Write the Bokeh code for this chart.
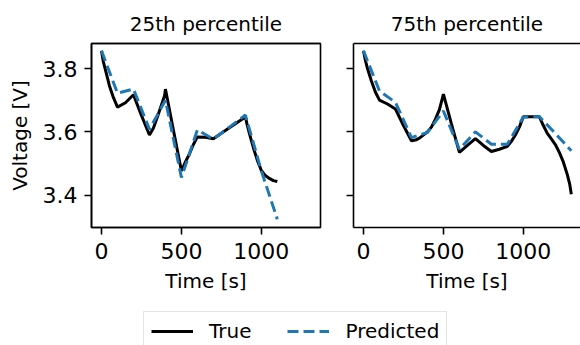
from bokeh.plotting import figure
from bokeh.models import (Range1d, FixedTicker, LinearAxis, Legend, LegendItem,
                          CustomJSTickFormatter)
from bokeh.layouts import row, column
from bokeh.embed import file_html
from bokeh.resources import INLINE

FONT = "DejaVu Sans"
TRUE_COLOR = "#000000"
PRED_COLOR = "#1f77b4"

titles = ["25th percentile", "75th percentile"]
x_label = "Time [s]"
y_label = "Voltage [V]"
x_ticks = [0, 500, 1000]
y_ticks = [3.4, 3.6, 3.8]
legend_labels = ["True", "Predicted"]

# 25th percentile
t_true_25 = [0, 10, 25, 50, 75, 100, 150, 200, 250, 300, 325, 350, 375, 395, 400,
             450, 500, 525, 550, 575, 600, 650, 700, 800, 900, 910, 925, 950, 975,
             1000, 1025, 1050, 1075, 1100]
v_true_25 = [3.856, 3.825, 3.795, 3.745, 3.708, 3.678, 3.692, 3.717, 3.652, 3.590,
             3.612, 3.648, 3.685, 3.715, 3.735, 3.605, 3.477, 3.505, 3.530, 3.560,
             3.584, 3.583, 3.578, 3.613, 3.647, 3.625, 3.595, 3.550, 3.510, 3.478,
             3.462, 3.453, 3.446, 3.443]
t_pred_25 = [0, 100, 200, 300, 400, 500, 600, 700, 800, 900, 1000, 1100]
v_pred_25 = [3.856, 3.722, 3.735, 3.608, 3.700, 3.456, 3.606, 3.577, 3.615, 3.653,
             3.477, 3.324]

# 75th percentile
t_true_75 = [0, 10, 25, 50, 75, 100, 150, 200, 250, 300, 325, 350, 400, 425, 450,
             475, 500, 550, 600, 650, 700, 750, 800, 850, 900, 925, 950, 975, 1000,
             1100, 1125, 1150, 1175, 1200, 1225, 1250, 1275, 1290, 1300]
v_true_75 = [3.856, 3.830, 3.800, 3.760, 3.725, 3.700, 3.688, 3.672, 3.620, 3.572,
             3.574, 3.580, 3.600, 3.615, 3.640, 3.670, 3.719, 3.625, 3.535, 3.557,
             3.579, 3.557, 3.538, 3.545, 3.554, 3.570, 3.590, 3.615, 3.648, 3.648,
             3.620, 3.595, 3.578, 3.560, 3.535, 3.505, 3.465, 3.435, 3.403]
t_pred_75 = [0, 100, 200, 300, 400, 500, 600, 700, 800, 900, 1000, 1100, 1200, 1300]
v_pred_75 = [3.856, 3.729, 3.693, 3.582, 3.598, 3.666, 3.545, 3.600, 3.561, 3.561,
             3.647, 3.648, 3.595, 3.540]

panels = [
    (titles[0], t_true_25, v_true_25, t_pred_25, v_pred_25),
    (titles[1], t_true_75, v_true_75, t_pred_75, v_pred_75),
]

X0, X1 = -62.5, 1370.0
Y0, Y1 = 3.298, 3.879
FW1, FW2, FH = 229, 227, 184
x_scale = FW1 / (X1 - X0)


def make_panel(i, title, tt, vt, tp, vp):
    first = i == 0
    fw = FW1 if first else FW2
    x_end = X1 if first else X0 + fw / x_scale
    p = figure(frame_width=fw, frame_height=FH,
               x_range=Range1d(X0, x_end), y_range=Range1d(Y0, Y1),
               output_backend="svg", toolbar_location=None,
               min_border_left=91 if first else 16,
               min_border_right=17 if first else 0,
               min_border_top=43, min_border_bottom=75,
               background_fill_color="white", border_fill_color="white")
    p.title.text = title
    p.title.align = "center"
    p.title.text_font = FONT
    p.title.text_font_size = "20px"
    p.title.text_font_style = "normal"
    p.title.text_color = "#000000"
    p.title.standoff = 16
    p.grid.visible = False
    if first:
        p.outline_line_color = "black"
        p.outline_line_width = 1.6
        p.outline_line_alpha = 1
    else:
        p.outline_line_color = None

    for ax in (p.xaxis[0], p.yaxis[0]):
        ax.axis_line_width = 1.6
        ax.axis_line_color = "black"
        ax.major_tick_in = 0
        ax.major_tick_out = 7
        ax.major_tick_line_width = 1.6
        ax.minor_tick_in = 0
        ax.minor_tick_out = 0
        ax.major_label_text_font = FONT
        ax.major_label_text_font_size = "22px"
        ax.major_label_text_color = "black"
        ax.axis_label_text_font = FONT
        ax.axis_label_text_font_size = "20px"
        ax.axis_label_text_font_style = "normal"
        ax.axis_label_text_color = "black"
    p.xaxis.ticker = FixedTicker(ticks=x_ticks)
    p.yaxis.ticker = FixedTicker(ticks=y_ticks)
    p.xaxis.axis_label = x_label
    p.xaxis.major_label_standoff = 8
    p.xaxis.axis_label_standoff = 7
    if first:
        p.yaxis.axis_label = y_label
        p.yaxis.major_label_standoff = 7
        p.yaxis.axis_label_standoff = 8
    else:
        p.yaxis.formatter = CustomJSTickFormatter(code="return '';")
        p.yaxis.major_label_standoff = 0

    top = LinearAxis(ticker=FixedTicker(ticks=[]),
                     major_tick_in=0, major_tick_out=0, minor_tick_in=0,
                     minor_tick_out=0, major_label_standoff=0,
                     axis_line_width=1.6, axis_line_color="black")
    p.add_layout(top, "above")

    p.line(tt, vt, line_color=TRUE_COLOR, line_width=3)
    p.line(tp, vp, line_color=PRED_COLOR, line_width=3, line_dash="11 5")
    return p


figs = [make_panel(i, *panel) for i, panel in enumerate(panels)]

leg = figure(width=580, height=43, x_range=Range1d(0, 1), y_range=Range1d(0, 1),
             output_backend="svg", toolbar_location=None, min_border=0,
             min_border_left=0, min_border_right=0, min_border_top=0,
             min_border_bottom=0)
leg.axis.visible = False
leg.grid.visible = False
leg.outline_line_color = None
r_true = leg.line([-10, -9], [-10, -9], line_color=TRUE_COLOR, line_width=3)
r_pred = leg.line([-10, -9], [-10, -9], line_color=PRED_COLOR, line_width=3,
                  line_dash="11 5")
legend = Legend(items=[LegendItem(label=legend_labels[0], renderers=[r_true]),
                       LegendItem(label=legend_labels[1], renderers=[r_pred])],
                orientation="horizontal", location=(143, -6),
                glyph_width=42, glyph_height=20, label_standoff=16, spacing=36,
                padding=7, margin=0, label_text_font=FONT,
                label_text_font_size="20px", label_text_color="black",
                border_line_color="#cccccc", border_line_width=1.5,
                background_fill_alpha=0.8)
leg.add_layout(legend, "center")

layout = column(row(*figs), leg)
open("out.html", "w").write(file_html(layout, INLINE))
